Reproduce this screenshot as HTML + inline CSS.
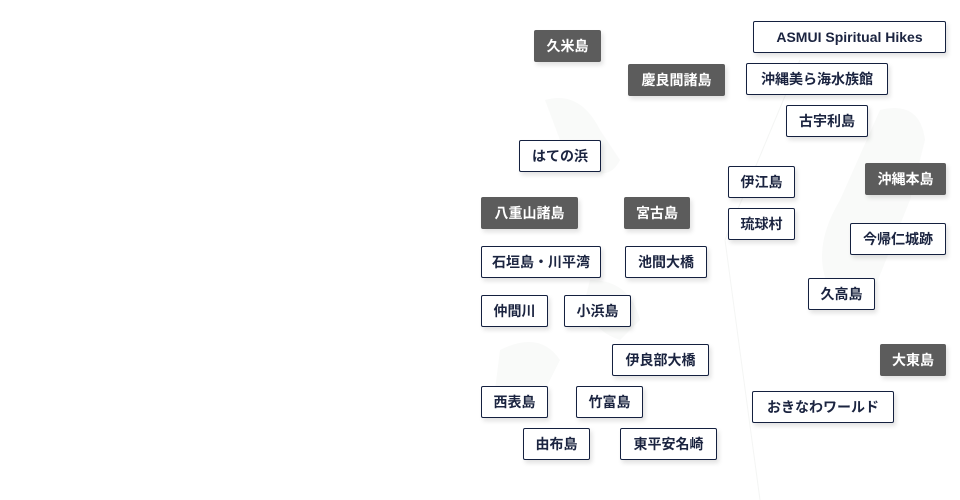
<!DOCTYPE html>
<html><head><meta charset="utf-8"><style>
html,body{margin:0;padding:0;}
body{width:960px;height:500px;background:#fff;position:relative;overflow:hidden;font-family:"Liberation Sans","Noto Sans CJK JP",sans-serif;}
.b{position:absolute;box-sizing:border-box;height:32px;border:1px solid #14203f;border-radius:2px;background:#fff;color:#1b2440;font-weight:bold;font-size:14px;display:flex;align-items:center;justify-content:center;box-shadow:2px 3px 5px rgba(0,0,0,0.12);white-space:nowrap;}
.d{background:#5c5c5c;border-color:#5c5c5c;color:#fff;}
</style></head><body>
<svg width="960" height="500" style="position:absolute;left:0;top:0">
<line x1="800" y1="60" x2="725" y2="240" stroke="#f4f5f4" stroke-width="1"/>
<line x1="725" y1="240" x2="760" y2="500" stroke="#f4f5f4" stroke-width="1"/>
<path d="M545 100 Q580 90 600 130 L620 160 Q610 180 590 170 L560 140 Z" fill="#f9faf9"/>
<path d="M880 110 Q920 100 925 140 L910 200 Q890 250 870 300 L830 290 Q810 250 840 200 Z" fill="#f9faf9"/>
<path d="M500 350 Q540 330 560 360 L540 400 Q510 410 495 390 Z" fill="#f9faf9"/>
<path d="M590 280 Q630 280 640 320 L620 340 Q590 330 585 300 Z" fill="#f9faf9"/>
</svg>
<div class="b d" style="left:534px;top:30px;width:67px">久米島</div>
<div class="b d" style="left:628px;top:64px;width:97px">慶良間諸島</div>
<div class="b" style="left:753px;top:21px;width:193px">ASMUI Spiritual Hikes</div>
<div class="b" style="left:746px;top:63px;width:142px">沖縄美ら海水族館</div>
<div class="b" style="left:786px;top:105px;width:82px">古宇利島</div>
<div class="b" style="left:519px;top:140px;width:82px">はての浜</div>
<div class="b" style="left:728px;top:166px;width:67px">伊江島</div>
<div class="b d" style="left:865px;top:163px;width:81px">沖縄本島</div>
<div class="b d" style="left:481px;top:197px;width:97px">八重山諸島</div>
<div class="b d" style="left:624px;top:197px;width:66px">宮古島</div>
<div class="b" style="left:728px;top:208px;width:67px">琉球村</div>
<div class="b" style="left:850px;top:223px;width:96px">今帰仁城跡</div>
<div class="b" style="left:481px;top:246px;width:120px">石垣島・川平湾</div>
<div class="b" style="left:625px;top:246px;width:82px">池間大橋</div>
<div class="b" style="left:481px;top:295px;width:67px">仲間川</div>
<div class="b" style="left:564px;top:295px;width:67px">小浜島</div>
<div class="b" style="left:808px;top:278px;width:67px">久高島</div>
<div class="b" style="left:612px;top:344px;width:97px">伊良部大橋</div>
<div class="b d" style="left:880px;top:344px;width:66px">大東島</div>
<div class="b" style="left:481px;top:386px;width:67px">西表島</div>
<div class="b" style="left:576px;top:386px;width:67px">竹富島</div>
<div class="b" style="left:752px;top:391px;width:142px">おきなわワールド</div>
<div class="b" style="left:523px;top:428px;width:67px">由布島</div>
<div class="b" style="left:620px;top:428px;width:97px">東平安名崎</div>
</body></html>
